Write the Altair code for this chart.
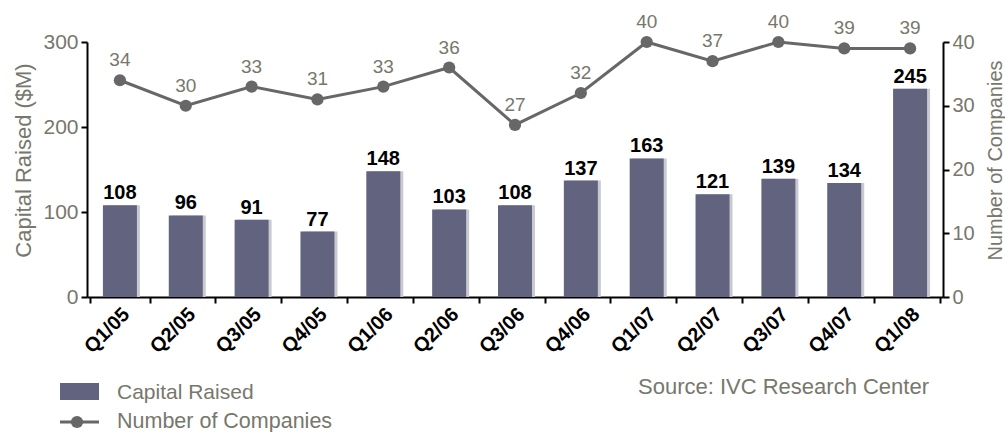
import altair as alt
import pandas as pd

quarters = ["Q1/05", "Q2/05", "Q3/05", "Q4/05", "Q1/06", "Q2/06", "Q3/06",
            "Q4/06", "Q1/07", "Q2/07", "Q3/07", "Q4/07", "Q1/08"]
capital = [108, 96, 91, 77, 148, 103, 108, 137, 163, 121, 139, 134, 245]
companies = [34, 30, 33, 31, 33, 36, 27, 32, 40, 37, 40, 39, 39]

df = pd.DataFrame({"q": quarters, "capital": capital, "companies": companies})

FONT = "Liberation Sans"
GRAY = "#77776c"
BAR = "#62637f"
LINE = "#676767"

x = alt.X("q:N", sort=quarters, title=None,
          axis=alt.Axis(labelAngle=-45, labelFont=FONT, labelFontSize=20,
                        labelFontWeight="bold", labelColor="black",
                        labelAlign="right", labelBaseline="middle",
                        labelPadding=8, labelOffset=6,
                        tickBand="extent", tickSize=6, tickColor="black",
                        domainColor="black", domainWidth=2, tickWidth=2,
                        ticks=True))

yleft = alt.Y("capital:Q", scale=alt.Scale(domain=[0, 300]),
              title="Capital Raised ($M)",
              axis=alt.Axis(values=[0, 100, 200, 300], grid=False,
                            labelFont=FONT, labelFontSize=21, labelColor=GRAY,
                            titleFont=FONT, titleFontSize=22, titleColor=GRAY,
                            titleFontWeight="normal", titleAngle=270,
                            titleX=-64, titleY=118, titleAlign="center",
                            titleBaseline="middle",
                            tickSize=6, tickColor="black", tickWidth=2,
                            domainColor="black", domainWidth=2, labelPadding=3))

yright = alt.Y("companies:Q", scale=alt.Scale(domain=[0, 40]),
               title="Number of Companies",
               axis=alt.Axis(orient="right", values=[0, 10, 20, 30, 40], grid=False,
                             labelFont=FONT, labelFontSize=20, labelColor=GRAY,
                             titleFont=FONT, titleFontSize=20, titleColor=GRAY,
                             titleFontWeight="normal", titleAngle=270,
                             titleX=52, titleY=118, titleAlign="center",
                             titleBaseline="middle",
                             tickSize=6, tickColor="black", tickWidth=2,
                             domainColor="black", domainWidth=2, labelPadding=3))

base = alt.Chart(df)

shadow = base.mark_bar(size=34, color="#c9c9d2", xOffset=3).encode(x=x, y=yleft)
bars = base.mark_bar(size=34, color=BAR).encode(x=x, y=yleft)
bar_labels = base.mark_text(font=FONT, fontSize=20, fontWeight="bold",
                            color="black", baseline="bottom", dy=-2).encode(
    x=x, y=yleft, text="capital:Q")

left = alt.layer(shadow, bars, bar_labels)

line = base.mark_line(color=LINE, strokeWidth=3).encode(x=x, y=yright)
pts = base.mark_point(filled=True, color=LINE, size=150, opacity=1).encode(
    x=x, y=yright)
pt_labels = base.mark_text(font=FONT, fontSize=19, color=GRAY,
                           baseline="bottom", dy=-10).encode(
    x=x, y=yright, text="companies:Q")

right = alt.layer(line, pts, pt_labels)

one = pd.DataFrame({"a": [0]})
lg = alt.Chart(one)
leg_rect = lg.mark_rect(color=BAR).encode(
    x=alt.value(-27), x2=alt.value(12), y=alt.value(341), y2=alt.value(358))
leg_t1 = lg.mark_text(font=FONT, fontSize=21, color=GRAY, align="left",
                      baseline="middle", text="Capital Raised").encode(
    x=alt.value(30), y=alt.value(351))
leg_rule = lg.mark_rule(color=LINE, strokeWidth=3).encode(
    x=alt.value(-27), x2=alt.value(12), y=alt.value(380))
leg_pt = lg.mark_point(filled=True, color=LINE, size=150, opacity=1).encode(
    x=alt.value(-10), y=alt.value(380))
leg_t2 = lg.mark_text(font=FONT, fontSize=21.5, color=GRAY, align="left",
                      baseline="middle", text="Number of Companies").encode(
    x=alt.value(30), y=alt.value(380))
source = lg.mark_text(font=FONT, fontSize=22, color=GRAY, align="left",
                      baseline="middle", text="Source: IVC Research Center").encode(
    x=alt.value(551), y=alt.value(345))

legend = alt.layer(leg_rect, leg_t1, leg_rule, leg_pt, leg_t2, source)

chart = alt.layer(left, right, legend).resolve_scale(y="independent").properties(
    width=856, height=255,
    background="white",
    autosize=alt.AutoSizeParams(type="none"),
    padding={"left": 87, "top": 42, "right": 62, "bottom": 135},
).configure_view(stroke=None)

chart.save("out.html", embed_options={"renderer": "svg", "actions": False})
